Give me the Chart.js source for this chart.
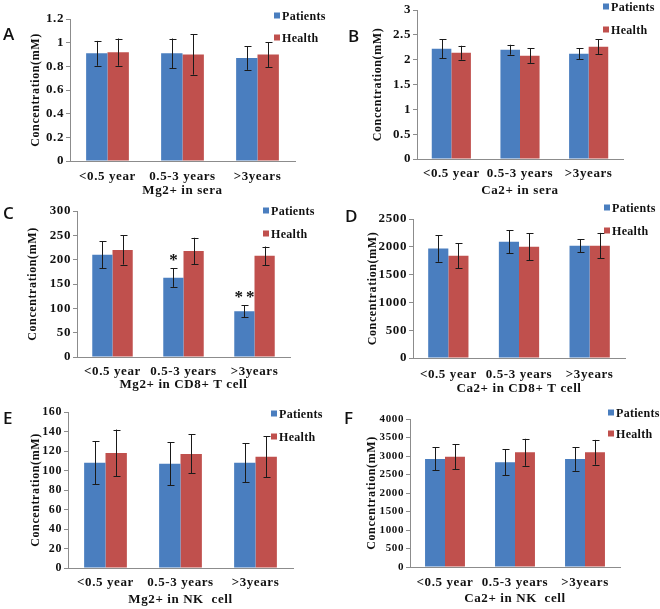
<!DOCTYPE html>
<html lang="en">
<head>
<meta charset="UTF-8">
<title>Mg2+ and Ca2+ concentration</title>
<script src="https://cdn.jsdelivr.net/npm/chart.js"></script>
<style>
  body { margin: 0; background: #fff; }
  #fig { position: relative; width: 660px; height: 609px; overflow: hidden; }
  .panel { position: absolute; }
  .panel canvas { position: absolute; left: 0; top: 0; }
  .letter { position: absolute; font: 600 17px "Open Sans", sans-serif; color: #111; line-height: 1; transform: translateY(-50%); }
  .leg { position: absolute; font: bold 12px "Liberation Serif", serif; color: #111; white-space: nowrap; transform: translateY(-50%); letter-spacing: 0.3px; }
  .leg i { display: inline-block; width: 6px; height: 6px; margin-right: 2px; vertical-align: 1px; }
</style>
</head>
<body>
<div id="fig"></div>
<script>
// categories and legend
const categories = ['<0.5 year', '0.5-3 years', '>3years'];
const seriesNames = ['Patients', 'Health'];
const seriesColors = ['#4a7ebf', '#c0504d'];

// A: Mg2+ in sera
const mgSeraPatients = [0.91, 0.91, 0.87];
const mgSeraPatientsErr = [0.105, 0.125, 0.10];
const mgSeraHealth = [0.92, 0.90, 0.90];
const mgSeraHealthErr = [0.115, 0.17, 0.105];

// B: Ca2+ in sera
const caSeraPatients = [2.22, 2.20, 2.12];
const caSeraPatientsErr = [0.19, 0.10, 0.115];
const caSeraHealth = [2.14, 2.08, 2.26];
const caSeraHealthErr = [0.14, 0.145, 0.15];

// C: Mg2+ in CD8+ T cell
const mgCd8Patients = [210, 163, 94];
const mgCd8PatientsErr = [28, 19, 12];
const mgCd8Health = [220, 218, 208];
const mgCd8HealthErr = [30, 27, 19];
const mgCd8Marks = ['', '*', '**'];

// D: Ca2+ in CD8+ T cell
const caCd8Patients = [1970, 2090, 2020];
const caCd8PatientsErr = [240, 205, 120];
const caCd8Health = [1840, 2000, 2020];
const caCd8HealthErr = [225, 240, 230];

// E: Mg2+ in NK cell
const mgNkPatients = [108, 107, 108];
const mgNkPatientsErr = [22, 22, 20];
const mgNkHealth = [118, 117, 114];
const mgNkHealthErr = [24, 20, 21];

// F: Ca2+ in NK cell
const caNkPatients = [2920, 2830, 2920];
const caNkPatientsErr = [310, 350, 320];
const caNkHealth = [2980, 3100, 3100];
const caNkHealthErr = [335, 365, 335];

const panels = [
  { letter: 'A', xTitle: 'Mg2+ in sera', max: 1.2, step: 0.2, ySize: 13,
    values: [mgSeraPatients, mgSeraHealth], errs: [mgSeraPatientsErr, mgSeraHealthErr], marks: null,
    box: [0, 0, 330, 200], area: [70, 295, 19, 161], yTitleX: 36, tickY: 177, titleY: 191,
    legend: [274, 16, 38], letterPos: [3, 33] },
  { letter: 'B', xTitle: 'Ca2+ in sera', max: 3, step: 0.5, ySize: 13,
    values: [caSeraPatients, caSeraHealth], errs: [caSeraPatientsErr, caSeraHealthErr], marks: null,
    box: [330, 0, 330, 200], area: [87, 293, 10, 159], yTitleX: 48, tickY: 174, titleY: 191,
    legend: [273, 7, 30], letterPos: [18, 35] },
  { letter: 'C', xTitle: 'Mg2+ in CD8+ T cell', max: 300, step: 50, ySize: 13,
    values: [mgCd8Patients, mgCd8Health], errs: [mgCd8PatientsErr, mgCd8HealthErr], marks: mgCd8Marks,
    box: [0, 200, 330, 200], area: [77, 290, 11, 157], yTitleX: 33, tickY: 172, titleY: 185,
    legend: [263, 11, 34], letterPos: [3, 12] },
  { letter: 'D', xTitle: 'Ca2+ in CD8+ T cell', max: 2500, step: 500, ySize: 13,
    values: [caCd8Patients, caCd8Health], errs: [caCd8PatientsErr, caCd8HealthErr], marks: null,
    box: [330, 200, 330, 200], area: [83, 295, 19, 158], yTitleX: 43, tickY: 175, titleY: 189,
    legend: [274, 8, 31], letterPos: [15, 15] },
  { letter: 'E', xTitle: 'Mg2+ in NK  cell', max: 160, step: 20, ySize: 12,
    values: [mgNkPatients, mgNkHealth], errs: [mgNkPatientsErr, mgNkHealthErr], marks: null,
    box: [0, 400, 330, 209], area: [68, 293, 12, 168], yTitleX: 36, tickY: 183, titleY: 200,
    legend: [271, 14, 37], letterPos: [3, 17] },
  { letter: 'F', xTitle: 'Ca2+ in NK  cell', max: 4000, step: 500, ySize: 11,
    values: [caNkPatients, caNkHealth], errs: [caNkPatientsErr, caNkHealthErr], marks: null,
    box: [330, 400, 330, 209], area: [80, 290, 19, 167], yTitleX: 42, tickY: 183, titleY: 199,
    legend: [278, 13, 34], letterPos: [14, 17] }
];

const serif = 'Liberation Serif';
const tickFont = { family: serif, size: 13, weight: 'bold', lineHeight: 1.2 };
const halfLine = 13 * 1.2 / 2;

// wider letter spacing, like the original Times text
const spacing = {
  id: 'spacing',
  beforeLayout(chart) { chart.ctx.letterSpacing = '0.6px'; },
  beforeDraw(chart) { chart.ctx.letterSpacing = '0.6px'; }
};

// error bars + significance marks
const errorBars = {
  id: 'errorBars',
  afterDatasetsDraw(chart, args, opts) {
    const ctx = chart.ctx;
    const y = chart.scales.y;
    ctx.save();
    ctx.strokeStyle = '#1a1a1a';
    ctx.lineWidth = 1;
    chart.data.datasets.forEach((ds, di) => {
      const meta = chart.getDatasetMeta(di);
      meta.data.forEach((bar, i) => {
        const v = ds.data[i], e = opts.errs[di][i];
        const x = Math.round(bar.x) + 0.5;
        const yt = y.getPixelForValue(v + e), yb = y.getPixelForValue(v - e);
        ctx.beginPath();
        ctx.moveTo(x, yt); ctx.lineTo(x, yb);
        ctx.moveTo(x - 3, Math.round(yt) + 0.5); ctx.lineTo(x + 4, Math.round(yt) + 0.5);
        ctx.moveTo(x - 3, Math.round(yb) + 0.5); ctx.lineTo(x + 4, Math.round(yb) + 0.5);
        ctx.stroke();
        if (opts.marks && di === 0 && opts.marks[i]) {
          ctx.fillStyle = '#111';
          ctx.font = 'bold 17px "' + serif + '"';
          ctx.letterSpacing = '3px';
          ctx.textAlign = 'center';
          ctx.textBaseline = 'alphabetic';
          ctx.fillText(opts.marks[i], bar.x + 1.5, yt - 3);
          ctx.letterSpacing = '0.6px';
        }
      });
    });
    ctx.restore();
  }
};

const fig = document.getElementById('fig');

panels.forEach(p => {
  const [bl, bt, bw, bh] = p.box;
  const [al, ar, at, ab] = p.area;
  const div = document.createElement('div');
  div.className = 'panel';
  div.style.cssText = `left:${bl}px;top:${bt}px;width:${bw}px;height:${bh}px;`;
  const cv = document.createElement('canvas');
  cv.width = bw; cv.height = bh;
  cv.style.width = bw + 'px'; cv.style.height = bh + 'px';
  div.appendChild(cv);

  const letter = document.createElement('div');
  letter.className = 'letter';
  letter.textContent = p.letter;
  letter.style.left = p.letterPos[0] + 'px';
  letter.style.top = p.letterPos[1] + 'px';
  div.appendChild(letter);

  seriesNames.forEach((name, k) => {
    const lg = document.createElement('div');
    lg.className = 'leg';
    lg.style.left = p.legend[0] + 'px';
    lg.style.top = p.legend[1 + k] + 'px';
    lg.innerHTML = `<i style="background:${seriesColors[k]}"></i>`;
    lg.appendChild(document.createTextNode(name));
    div.appendChild(lg);
  });
  fig.appendChild(div);

  const xAxisH = bh - ab;
  const labelTop = p.tickY - ab - halfLine;
  const titleOff = bh - p.titleY - halfLine;

  new Chart(cv, {
    type: 'bar',
    data: {
      labels: categories,
      datasets: seriesNames.map((name, k) => ({
        label: name,
        data: p.values[k],
        backgroundColor: seriesColors[k],
        borderWidth: 0,
        barPercentage: 1,
        categoryPercentage: 0.57
      }))
    },
    options: {
      responsive: false,
      animation: false,
      layout: { padding: { left: 0, right: bw - ar, top: at, bottom: 0 } },
      plugins: {
        legend: { display: false },
        tooltip: { enabled: false },
        errorBars: { errs: p.errs, marks: p.marks }
      },
      scales: {
        x: {
          grid: { display: false, drawTicks: false },
          border: { display: true, color: '#8c8c8c', width: 1 },
          ticks: { color: '#111', font: tickFont, padding: labelTop, maxRotation: 0, autoSkip: false },
          title: { display: true, text: p.xTitle, color: '#111', font: tickFont, padding: { top: 0, bottom: titleOff } },
          afterFit: s => { s.height = xAxisH; }
        },
        y: {
          min: 0, max: p.max,
          grid: { drawOnChartArea: false, drawTicks: true, tickLength: 4, color: '#8c8c8c' },
          border: { display: true, color: '#8c8c8c', width: 1 },
          ticks: { stepSize: p.step, color: '#111', padding: 2, autoSkip: false,
                   font: { family: serif, size: p.ySize, weight: 'bold', lineHeight: 1.2 },
                   callback: v => String(Number(v.toFixed(2))) },
          title: { display: true, text: 'Concentration(mM)', color: '#111',
                   font: { family: serif, size: 12, weight: 'bold', lineHeight: 1.2 },
                   padding: { top: p.yTitleX - 7, bottom: 0 } },
          afterFit: s => { s.width = al; }
        }
      }
    },
    plugins: [spacing, errorBars]
  });
});
</script>
</body>
</html>
